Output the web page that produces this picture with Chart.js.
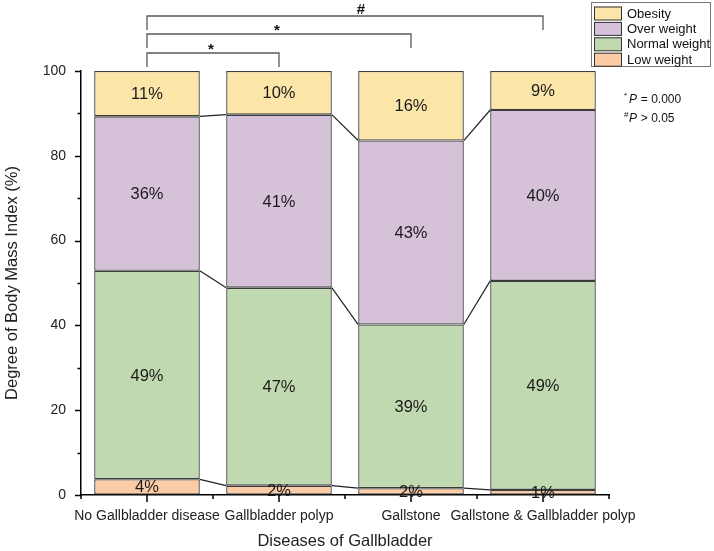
<!DOCTYPE html>
<html>
<head>
<meta charset="utf-8">
<script src="https://cdn.jsdelivr.net/npm/chart.js@4.4.0/dist/chart.umd.min.js"></script>
<style>
  html, body { margin: 0; padding: 0; background: #fff; }
  #wrap { width: 714px; height: 551px; }
</style>
</head>
<body>
<div id="wrap"><canvas id="bmiChart" width="714" height="551"></canvas></div>
<script>
// values (percent of each group)
const categories = ["No Gallbladder disease", "Gallbladder polyp", "Gallstone", "Gallstone & Gallbladder polyp"];
const lowWeight = [3.7, 2.2, 1.6, 1.2];
const normalWeight = [49.2, 46.7, 38.6, 49.3];
const overWeight = [36.4, 40.8, 43.4, 40.3];
const obesity = [10.7, 10.3, 16.4, 9.2];
const seriesNames = ["Low weight", "Normal weight", "Over weight", "Obesity"];
// significance brackets: [from, to, mark]
const brackets = [[0, 3, "#"], [0, 2, "*"], [0, 1, "*"]];
const pNotes = [["*", "P = 0.000"], ["#", "P > 0.05"]];

const FONT = "'Liberation Sans', Arial, sans-serif";
Chart.defaults.font.family = FONT;
Chart.defaults.color = "#222";

const colors = ["#FCCCA6", "#C1D9B1", "#D5C2D9", "#FCE5A9"];

const extras = {
  id: "extras",
  afterDatasetsDraw(chart) {
    const ctx = chart.ctx;
    const area = chart.chartArea;
    const x = chart.scales.x;
    const y = chart.scales.y;
    ctx.save();

    // lines joining the stack boundaries
    ctx.strokeStyle = "#222";
    ctx.lineWidth = 1.2;
    for (let d = 0; d < 3; d++) {
      const bars = chart.getDatasetMeta(d).data;
      for (let i = 0; i < bars.length - 1; i++) {
        const a = bars[i], b = bars[i + 1];
        ctx.beginPath();
        ctx.moveTo(a.x + a.width / 2, a.y);
        ctx.lineTo(b.x - b.width / 2, b.y);
        ctx.stroke();
      }
    }

    // percent labels
    ctx.fillStyle = "#1a1a1a";
    ctx.font = "16.5px " + FONT;
    ctx.textAlign = "center";
    ctx.textBaseline = "middle";
    chart.data.datasets.forEach((ds, d) => {
      chart.getDatasetMeta(d).data.forEach((bar, i) => {
        ctx.fillText(Math.round(ds.data[i]) + "%", bar.x, (bar.y + bar.base) / 2 + 1);
      });
    });

    // tick marks
    ctx.strokeStyle = "#000";
    ctx.lineWidth = 1.5;
    for (let v = 0; v <= 100; v += 10) {
      const py = Math.round(y.getPixelForValue(v)) + 0.5;
      ctx.beginPath();
      ctx.moveTo(area.left, py);
      ctx.lineTo(area.left - (v % 20 === 0 ? 6 : 3.5), py);
      ctx.stroke();
    }
    const step = (area.right - area.left) / categories.length;
    for (let i = 0; i <= categories.length; i++) {
      const px = area.left + i * step;
      ctx.beginPath();
      ctx.moveTo(px, area.bottom);
      ctx.lineTo(px, area.bottom + 4);
      ctx.stroke();
      if (i < categories.length) {
        const cx = x.getPixelForValue(i);
        ctx.beginPath();
        ctx.moveTo(cx, area.bottom);
        ctx.lineTo(cx, area.bottom + 7);
        ctx.stroke();
      }
    }

    // significance brackets
    const levels = [16, 34, 53];
    ctx.strokeStyle = "#5a5a5a";
    ctx.lineWidth = 1.3;
    brackets.forEach((br, k) => {
      const x0 = x.getPixelForValue(br[0]);
      const x1 = x.getPixelForValue(br[1]);
      const ly = levels[k];
      ctx.beginPath();
      ctx.moveTo(x0, ly + 14);
      ctx.lineTo(x0, ly);
      ctx.lineTo(x1, ly);
      ctx.lineTo(x1, ly + 14);
      ctx.stroke();
      ctx.fillStyle = "#111";
      ctx.font = "bold 15px " + FONT;
      const mx = br[2] === "#" ? (x0 + x1) / 2 + 16 : (x0 + x1) / 2 - 2;
      ctx.fillText(br[2], mx, br[2] === "#" ? ly - 6 : ly - 3);
    });

    // p-value notes
    ctx.textAlign = "left";
    pNotes.forEach((n, k) => {
      const ny = 100 + k * 19;
      ctx.font = "8px " + FONT;
      ctx.fillText(n[0], 624, ny - 4);
      ctx.font = "italic 12px " + FONT;
      ctx.fillText("P", 629, ny);
      ctx.font = "12px " + FONT;
      ctx.fillText(n[1].slice(1), 629 + ctx.measureText("P").width + 0.5, ny);
    });

    // legend
    ctx.strokeStyle = "#777";
    ctx.lineWidth = 1;
    ctx.strokeRect(591.5, 2.5, 119, 64);
    ctx.font = "13px " + FONT;
    for (let k = 0; k < 4; k++) {
      const d = 3 - k;
      const sy = 6.5 + k * 15.4;
      ctx.fillStyle = colors[d];
      ctx.fillRect(594, sy, 28, 13.5);
      ctx.strokeStyle = "#333";
      ctx.strokeRect(594.5, sy + 0.5, 27, 13);
      ctx.fillStyle = "#111";
      ctx.fillText(seriesNames[d], 627, sy + 7.5);
    }
    ctx.restore();
  }
};

const ds = [lowWeight, normalWeight, overWeight, obesity].map((vals, d) => ({
  label: seriesNames[d],
  data: vals,
  backgroundColor: colors[d],
  borderColor: "#3c3c3c",
  borderWidth: 1.3,
  borderSkipped: false,
  barPercentage: 0.8,
  categoryPercentage: 1.0
}));

new Chart(document.getElementById("bmiChart"), {
  type: "bar",
  data: { labels: categories, datasets: ds },
  options: {
    responsive: false,
    animation: false,
    layout: { padding: { left: 0, right: 105, top: 71, bottom: 0 } },
    plugins: { legend: { display: false }, tooltip: { enabled: false } },
    scales: {
      x: {
        stacked: true,
        grid: { display: true, drawOnChartArea: false, tickLength: 6, tickColor: "rgba(0,0,0,0)" },
        border: { display: true, color: "#000", width: 1.5 },
        ticks: { autoSkip: false, maxRotation: 0, padding: 7, font: { size: 14 }, color: "#222" },
        title: { display: true, text: "Diseases of Gallbladder", font: { size: 16.5 }, color: "#222", padding: { top: 0, bottom: 0 } },
        afterFit(scale) { scale.height = 56; }
      },
      y: {
        stacked: true,
        min: 0,
        max: 100,
        grid: { display: true, drawOnChartArea: false, tickLength: 6, tickColor: "rgba(0,0,0,0)" },
        border: { display: true, color: "#000", width: 1.5 },
        ticks: { stepSize: 20, padding: 9, font: { size: 14 }, color: "#222" },
        title: { display: true, text: "Degree of Body Mass Index (%)", font: { size: 16.5 }, color: "#222", padding: { top: 3, bottom: 0 } },
        afterFit(scale) { scale.width = 81; }
      }
    }
  },
  plugins: [extras]
});
</script>
</body>
</html>
